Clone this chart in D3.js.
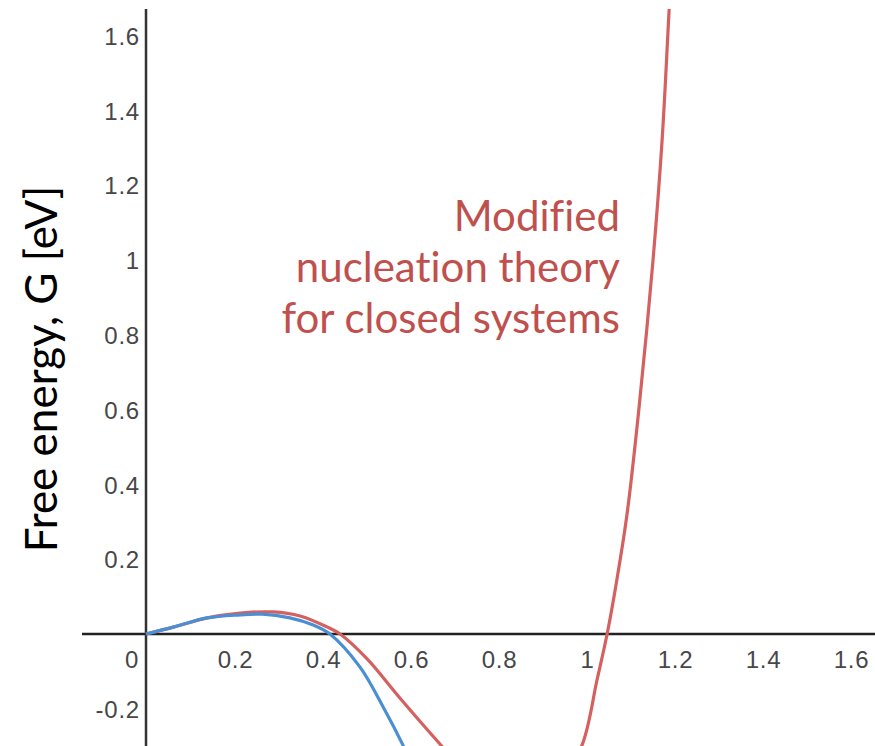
<!DOCTYPE html>
<html lang="en">
<head>
<meta charset="UTF-8">
<title>Free energy</title>
<style>
  body { margin: 0; background: #fff; }
  #svg { display: block; }
  .tick text, .zero { font-family: "Liberation Sans", Arial, sans-serif; font-size: 24px; fill: #474747; letter-spacing: 0.8px; }
  .note { font-family: Lato, sans-serif; font-size: 42px; font-variant-ligatures: none; }
</style>
<script src="https://d3js.org/d3.v7.min.js"></script>
</head>
<body>
<svg id="svg"></svg>
<script>
  const width = 875;
  const height = 746;

  // tick labels
  const xTicks = [0.2, 0.4, 0.6, 0.8, 1, 1.2, 1.4, 1.6];
  const yTicks = [-0.2, 0.2, 0.4, 0.6, 0.8, 1, 1.2, 1.4, 1.6];

  // blue curve
  const blueX = [0, 0.064, 0.139, 0.214, 0.264, 0.327, 0.380, 0.418, 0.486, 0.539, 0.584, 0.62];
  const blueG = [0, 0.019, 0.043, 0.051, 0.053, 0.043, 0.024, 0, -0.088, -0.195, -0.297, -0.39];

  // red curve, modified nucleation theory for closed systems
  const redX = [0, 0.064, 0.139, 0.214, 0.289, 0.35, 0.411, 0.441, 0.502, 0.577, 0.668, 0.75, 0.85, 0.93, 0.991, 1.025, 1.048, 1.07, 1.093, 1.12, 1.152, 1.173, 1.189, 1.205];
  const redG = [0, 0.019, 0.043, 0.056, 0.059, 0.048, 0.019, 0, -0.066, -0.171, -0.294, -0.40, -0.46, -0.42, -0.297, -0.123, 0, 0.144, 0.318, 0.599, 0.995, 1.321, 1.671, 2.02];

  const labelLines = ['Modified', 'nucleation theory', 'for closed systems'];

  const x = d3.scaleLinear().domain([0, 1]).range([146, 586]);
  const y = d3.scaleLinear().domain([0, 1]).range([634, 260]);
  const fmt = d => String(d);

  const svg = d3.select('#svg')
    .attr('width', width)
    .attr('height', height);

  svg.append('clipPath').attr('id', 'clip')
    .append('rect').attr('x', 82).attr('y', 9).attr('width', width - 82).attr('height', height - 9);

  // axes lines
  svg.append('line')
    .attr('x1', 82).attr('x2', width)
    .attr('y1', y(0)).attr('y2', y(0))
    .attr('stroke', '#222').attr('stroke-width', 2.5);
  svg.append('line')
    .attr('x1', x(0)).attr('x2', x(0))
    .attr('y1', 9).attr('y2', height)
    .attr('stroke', '#333').attr('stroke-width', 2.5);

  // tick labels through d3 axes, no tick marks
  const xAxis = svg.append('g')
    .attr('transform', 'translate(1,' + y(0) + ')')
    .call(d3.axisBottom(x).tickValues(xTicks).tickSize(0).tickPadding(17).tickFormat(fmt));
  xAxis.select('.domain').remove();
  xAxis.selectAll('text').attr('dy', '0.71em');

  const yAxis = svg.append('g')
    .attr('transform', 'translate(' + (x(0) - 6) + ',0)')
    .call(d3.axisLeft(y).tickValues(yTicks).tickSize(0).tickPadding(0).tickFormat(fmt));
  yAxis.select('.domain').remove();
  yAxis.selectAll('text').attr('dy', '0.36em');

  svg.append('text')
    .attr('class', 'zero')
    .attr('x', x(0) - 14).attr('y', y(0) + 34)
    .attr('text-anchor', 'middle')
    .text('0');

  const line = d3.line()
    .x(d => x(d[0]))
    .y(d => y(d[1]))
    .curve(d3.curveCatmullRom.alpha(0.5));

  const plot = svg.append('g').attr('clip-path', 'url(#clip)');

  plot.append('path')
    .datum(redX.map((v, i) => [v, redG[i]]))
    .attr('d', line)
    .attr('fill', 'none')
    .attr('stroke', '#d4605f')
    .attr('stroke-width', 3.2);

  plot.append('path')
    .datum(blueX.map((v, i) => [v, blueG[i]]))
    .attr('d', line)
    .attr('fill', 'none')
    .attr('stroke', '#4a8fd4')
    .attr('stroke-width', 3.2);

  // annotation
  svg.append('text')
    .attr('class', 'note')
    .attr('text-anchor', 'end')
    .attr('fill', '#c0504d')
    .selectAll('tspan')
    .data(labelLines)
    .enter()
    .append('tspan')
    .attr('x', 620)
    .attr('y', (d, i) => 231 + i * 51)
    .text(d => d);

  // y axis title
  svg.append('text')
    .attr('transform', 'translate(57,369) rotate(-90)')
    .attr('text-anchor', 'middle')
    .style('font-family', 'Lato, sans-serif')
    .style('font-size', '44px')
    .attr('fill', '#000')
    .text('Free energy, G [eV]');
</script>
</body>
</html>
